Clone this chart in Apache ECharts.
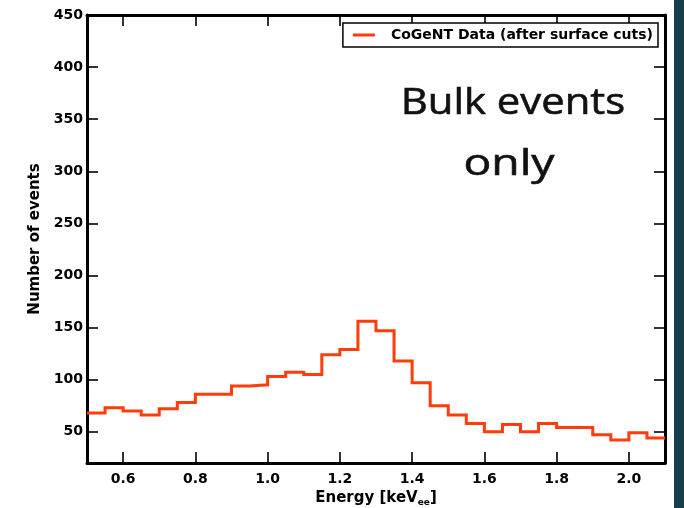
<!DOCTYPE html>
<html>
<head>
<meta charset="utf-8">
<title>CoGeNT bulk events spectrum</title>
<script src="https://cdn.jsdelivr.net/npm/echarts@6/dist/echarts.min.js"></script>
<style>
  html, body { margin: 0; padding: 0; background: #ffffff; }
  #chart { width: 684px; height: 508px; }
</style>
</head>
<body>
<div id="chart"></div>
<script>
// Energy bin edges (keV_ee), 0.05 keV wide
const binEdges = [0.50, 0.55, 0.60, 0.65, 0.70, 0.75, 0.80, 0.85, 0.90, 0.95,
                  1.00, 1.05, 1.10, 1.15, 1.20, 1.25, 1.30, 1.35, 1.40, 1.45,
                  1.50, 1.55, 1.60, 1.65, 1.70, 1.75, 1.80, 1.85, 1.90, 1.95,
                  2.00, 2.05, 2.10];
// Counts per bin (bulk events after surface cuts)
const binCounts = [68, 73, 70, 66, 72, 78, 86, 86, 94, 95,
                   103, 107, 105, 124, 129, 156, 147, 118, 97, 75,
                   66, 58, 50, 57, 50, 58, 54, 54, 47, 42,
                   49, 44];
// Tick positions
const xTicks = [0.6, 0.8, 1.0, 1.2, 1.4, 1.6, 1.8, 2.0];
const yTicks = [50, 100, 150, 200, 250, 300, 350, 400, 450];

const seriesName = 'CoGeNT Data (after surface cuts)';
const lineColor = '#ff3c0a';
const labelFont = 'DejaVu Sans';

// Histogram outline: each bin edge carries that bin's count; the last edge closes the final bin
const histData = binEdges.map((e, i) => [e, binCounts[Math.min(i, binCounts.length - 1)]]);

const chart = echarts.init(document.getElementById('chart'), null, { renderer: 'canvas' });

const axisLine = { show: true, onZero: false, lineStyle: { color: '#000', width: 3 } };
const tickStyle = { color: '#000', width: 1.6 };

chart.setOption({
  animation: false,
  backgroundColor: '#ffffff',
  grid: { left: 87, right: 19, top: 15, bottom: 45, containLabel: false, outerBoundsMode: 'none' },
  legend: {
    show: true,
    data: [{ name: seriesName, icon: 'rect' }],
    right: 26,
    top: 23,
    orient: 'horizontal',
    itemWidth: 22,
    itemHeight: 3,
    padding: [5, 5, 5, 10],
    borderColor: '#000',
    borderWidth: 1.5,
    borderRadius: 0,
    backgroundColor: '#fff',
    textStyle: {
      fontFamily: labelFont, fontWeight: 'bold', fontSize: 14, color: '#000',
      padding: [0, 0, 0, 11]
    }
  },
  xAxis: [{
    type: 'value', min: 0.5, max: 2.1, position: 'bottom',
    name: 'Energy [keV{sub|ee}]',
    nameLocation: 'middle', nameGap: 20,
    nameTextStyle: {
      fontFamily: labelFont, fontWeight: 'bold', fontSize: 15, color: '#000',
      rich: { sub: { fontFamily: labelFont, fontWeight: 'bold', fontSize: 9, verticalAlign: 'bottom', padding: [9, 0, 0, 0] } }
    },
    axisLine: axisLine,
    axisTick: { show: true, inside: true, length: 11, lineStyle: tickStyle, customValues: xTicks },
    axisLabel: {
      show: true, margin: 9, customValues: xTicks,
      fontFamily: labelFont, fontWeight: 'bold', fontSize: 14, color: '#000',
      formatter: v => v.toFixed(1)
    },
    splitLine: { show: false }
  }, {
    type: 'value', min: 0.5, max: 2.1, position: 'top',
    axisLine: axisLine,
    axisTick: { show: true, inside: true, length: 11, lineStyle: tickStyle, customValues: xTicks },
    axisLabel: { show: false },
    splitLine: { show: false }
  }],
  yAxis: [{
    type: 'value', min: 20, max: 450, position: 'left',
    name: 'Number of events',
    nameLocation: 'middle', nameGap: 43, nameRotate: 90,
    nameTextStyle: { fontFamily: labelFont, fontWeight: 'bold', fontSize: 15, color: '#000' },
    axisLine: axisLine,
    axisTick: { show: true, inside: true, length: 11, lineStyle: tickStyle, customValues: yTicks },
    axisLabel: {
      show: true, margin: 4, customValues: yTicks,
      fontFamily: labelFont, fontWeight: 'bold', fontSize: 14, color: '#000'
    },
    splitLine: { show: false }
  }, {
    type: 'value', min: 20, max: 450, position: 'right',
    axisLine: axisLine,
    axisTick: { show: true, inside: true, length: 11, lineStyle: tickStyle, customValues: yTicks },
    axisLabel: { show: false },
    splitLine: { show: false }
  }],
  series: [{
    name: seriesName,
    type: 'line',
    step: 'end',
    xAxisIndex: 0,
    yAxisIndex: 0,
    data: histData,
    showSymbol: false,
    symbol: 'none',
    itemStyle: { color: lineColor },
    lineStyle: { color: lineColor, width: 3, join: 'miter', cap: 'butt' },
    z: 1
  }],
  graphic: [
    {
      type: 'text', x: 513, y: 103, scaleX: 1.13, z: 10,
      style: { text: 'Bulk events', fontFamily: 'Open Sans', fontSize: 37, fill: '#111',
               stroke: '#111', lineWidth: 0.6,
               textAlign: 'center', textVerticalAlign: 'middle', verticalAlign: 'middle' }
    },
    {
      type: 'text', x: 509, y: 164, scaleX: 1.25, z: 10,
      style: { text: 'only', fontFamily: 'Open Sans', fontSize: 37, fill: '#111',
               stroke: '#111', lineWidth: 0.6,
               textAlign: 'center', textVerticalAlign: 'middle', verticalAlign: 'middle' }
    },
    {
      type: 'rect', shape: { x: 674, y: 0, width: 10, height: 508 }, z: 20,
      style: { fill: '#163e4d' }
    }
  ]
});
</script>
</body>
</html>
